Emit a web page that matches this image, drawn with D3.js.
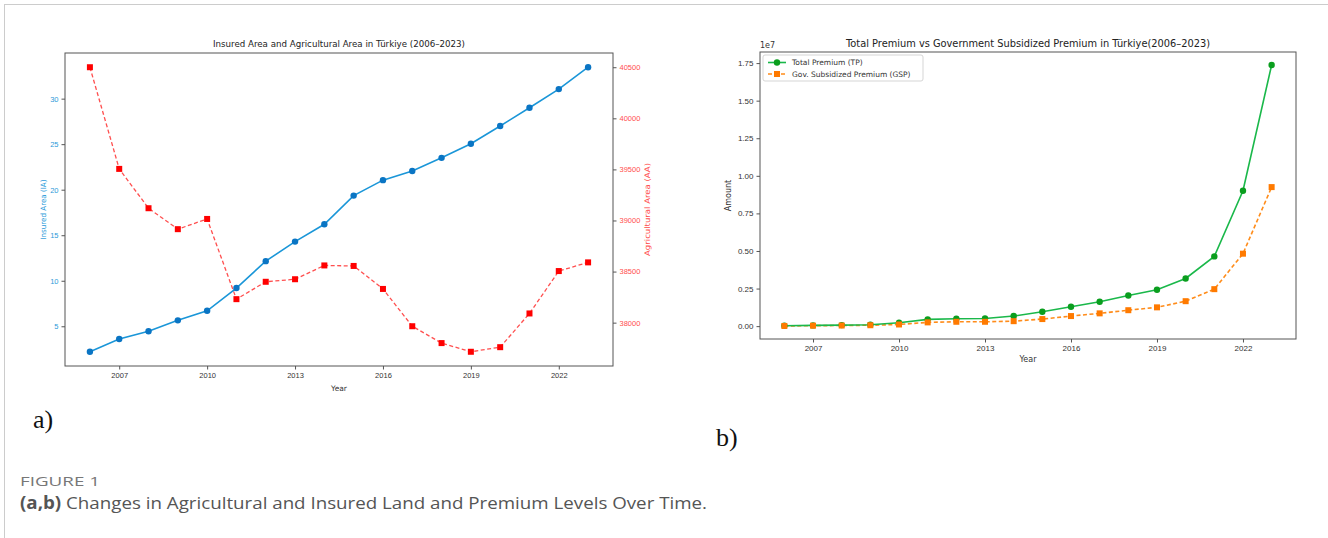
<!DOCTYPE html>
<html>
<head>
<meta charset="utf-8">
<script src="https://cdn.jsdelivr.net/npm/d3@7"></script>
<style>
  body { margin: 0; background: #fff; }
  svg { display: block; font-family: "DejaVu Sans", sans-serif; }
</style>
</head>
<body>
<svg id="fig" width="1328" height="538"></svg>
<script>
// data
const years = [2006, 2007, 2008, 2009, 2010, 2011, 2012, 2013, 2014, 2015, 2016, 2017, 2018, 2019, 2020, 2021, 2022, 2023];
const insuredArea = [2.2, 3.6, 4.45, 5.65, 6.7, 9.2, 12.15, 14.3, 16.2, 19.35, 21.05, 22.05, 23.5, 25.05, 27.0, 29.0, 31.05, 33.45];
const agriArea = [40500, 39505, 39120, 38915, 39015, 38230, 38400, 38425, 38560, 38555, 38330, 37965, 37800, 37715, 37760, 38090, 38505, 38590];
const totalPremium = [30000, 50000, 70000, 90000, 230000, 450000, 490000, 510000, 670000, 960000, 1290000, 1620000, 2040000, 2420000, 3170000, 4640000, 9010000, 17370000];
const govPremium = [12000, 30000, 40000, 60000, 110000, 250000, 290000, 290000, 330000, 470000, 670000, 850000, 1060000, 1250000, 1660000, 2460000, 4820000, 9250000];

const yearTicks = [2007, 2010, 2013, 2016, 2019, 2022];
const iaTicks = [5, 10, 15, 20, 25, 30];
const aaTicks = [38000, 38500, 39000, 39500, 40000, 40500];
const amountTicks = [0, 2500000, 5000000, 7500000, 10000000, 12500000, 15000000, 17500000];

const svg = d3.select("#fig");

// matplotlib style 5% margins
function padded(vals) {
  const [lo, hi] = d3.extent(vals);
  const m = (hi - lo) * 0.05;
  return [lo - m, hi + m];
}

function styleAxis(g, color) {
  g.select(".domain").remove();
  g.selectAll(".tick line").attr("stroke", "#555");
  g.selectAll(".tick text").attr("fill", color);
}

// page frame
svg.append("line").attr("x1", 4).attr("x2", 1328).attr("y1", 4.5).attr("y2", 4.5).attr("stroke", "#ccc");
svg.append("line").attr("x1", 4.5).attr("x2", 4.5).attr("y1", 4).attr("y2", 538).attr("stroke", "#ccc");

// ---------- panel a ----------
const A = { left: 65, right: 613, top: 53, bottom: 366 };
const xA = d3.scaleLinear().domain(padded(years)).range([A.left, A.right]);
const yIA = d3.scaleLinear().domain(padded(insuredArea)).range([A.bottom, A.top]);
const yAA = d3.scaleLinear().domain(padded(agriArea)).range([A.bottom, A.top]);

const pa = svg.append("g");

pa.append("g").attr("transform", `translate(0,${A.bottom})`)
  .style("font-size", "7.5px")
  .call(d3.axisBottom(xA).tickValues(yearTicks).tickFormat(d3.format("d")).tickSize(3.5).tickPadding(3))
  .call(g => styleAxis(g, "#333"));

pa.append("g").attr("transform", `translate(${A.left},0)`)
  .style("font-size", "7.5px")
  .call(d3.axisLeft(yIA).tickValues(iaTicks).tickSize(3.5).tickPadding(3))
  .call(g => styleAxis(g, "#2b9ad9"));

pa.append("g").attr("transform", `translate(${A.right},0)`)
  .style("font-size", "7.5px")
  .call(d3.axisRight(yAA).tickValues(aaTicks).tickFormat(d3.format("d")).tickSize(3.5).tickPadding(3))
  .call(g => styleAxis(g, "#ff4d4d"));

// red dashed agricultural area
pa.append("path")
  .datum(years.map((y, i) => [y, agriArea[i]]))
  .attr("fill", "none").attr("stroke", "#ff3030").attr("stroke-width", 1.3)
  .attr("stroke-dasharray", "4,2.5").attr("opacity", 0.85)
  .attr("d", d3.line().x(d => xA(d[0])).y(d => yAA(d[1])));

pa.selectAll("rect.aa").data(agriArea).enter().append("rect")
  .attr("class", "aa")
  .attr("x", (d, i) => xA(years[i]) - 3).attr("y", d => yAA(d) - 3)
  .attr("width", 6).attr("height", 6).attr("fill", "#ff0000");

// blue insured area
pa.append("path")
  .datum(years.map((y, i) => [y, insuredArea[i]]))
  .attr("fill", "none").attr("stroke", "#1a96d8").attr("stroke-width", 1.6)
  .attr("d", d3.line().x(d => xA(d[0])).y(d => yIA(d[1])));

pa.selectAll("circle.ia").data(insuredArea).enter().append("circle")
  .attr("class", "ia")
  .attr("cx", (d, i) => xA(years[i])).attr("cy", d => yIA(d))
  .attr("r", 3.2).attr("fill", "#0a75c4");

pa.append("rect")
  .attr("x", A.left).attr("y", A.top)
  .attr("width", A.right - A.left).attr("height", A.bottom - A.top)
  .attr("fill", "none").attr("stroke", "#555").attr("stroke-width", 1);

pa.append("text").attr("x", (A.left + A.right) / 2).attr("y", 47)
  .attr("text-anchor", "middle").attr("fill", "#222").style("font-size", "9.5px")
  .attr("textLength", 252).attr("lengthAdjust", "spacingAndGlyphs")
  .text("Insured Area and Agricultural Area in Türkiye (2006–2023)");

pa.append("text").attr("x", (A.left + A.right) / 2).attr("y", 391)
  .attr("text-anchor", "middle").attr("fill", "#333").style("font-size", "7.5px")
  .text("Year");

pa.append("text").attr("transform", `translate(46,${(A.top + A.bottom) / 2}) rotate(-90)`)
  .attr("text-anchor", "middle").attr("fill", "#2b9ad9").style("font-size", "7.5px")
  .attr("textLength", 60).attr("lengthAdjust", "spacingAndGlyphs")
  .text("Insured Area (IA)");

pa.append("text").attr("transform", `translate(650,${(A.top + A.bottom) / 2}) rotate(-90)`)
  .attr("text-anchor", "middle").attr("fill", "#ff4d4d").style("font-size", "7.5px")
  .attr("textLength", 93).attr("lengthAdjust", "spacingAndGlyphs")
  .text("Agricultural Area (AA)");

// ---------- panel b ----------
const B = { left: 760, right: 1296, top: 52, bottom: 339 };
const xB = d3.scaleLinear().domain(padded(years)).range([B.left, B.right]);
const yB = d3.scaleLinear().domain(padded(totalPremium.concat(govPremium))).range([B.bottom, B.top]);

const pb = svg.append("g");

pb.append("g").attr("transform", `translate(0,${B.bottom})`)
  .style("font-size", "8px")
  .call(d3.axisBottom(xB).tickValues(yearTicks).tickFormat(d3.format("d")).tickSize(3.5).tickPadding(3))
  .call(g => styleAxis(g, "#333"));

pb.append("g").attr("transform", `translate(${B.left},0)`)
  .style("font-size", "8px")
  .call(d3.axisLeft(yB).tickValues(amountTicks).tickFormat(d => (d / 1e7).toFixed(2)).tickSize(3.5).tickPadding(3))
  .call(g => styleAxis(g, "#333"));

pb.append("path")
  .datum(years.map((y, i) => [y, govPremium[i]]))
  .attr("fill", "none").attr("stroke", "#ff8c1a").attr("stroke-width", 1.6)
  .attr("stroke-dasharray", "4,2.5")
  .attr("d", d3.line().x(d => xB(d[0])).y(d => yB(d[1])));

pb.append("path")
  .datum(years.map((y, i) => [y, totalPremium[i]]))
  .attr("fill", "none").attr("stroke", "#1ab84a").attr("stroke-width", 1.6)
  .attr("d", d3.line().x(d => xB(d[0])).y(d => yB(d[1])));

pb.selectAll("circle.tp").data(totalPremium).enter().append("circle")
  .attr("class", "tp")
  .attr("cx", (d, i) => xB(years[i])).attr("cy", d => yB(d))
  .attr("r", 3.2).attr("fill", "#0a9e1e");

pb.selectAll("rect.gsp").data(govPremium).enter().append("rect")
  .attr("class", "gsp")
  .attr("x", (d, i) => xB(years[i]) - 3).attr("y", d => yB(d) - 3)
  .attr("width", 6).attr("height", 6).attr("fill", "#ff7a00");

pb.append("rect")
  .attr("x", B.left).attr("y", B.top)
  .attr("width", B.right - B.left).attr("height", B.bottom - B.top)
  .attr("fill", "none").attr("stroke", "#555").attr("stroke-width", 1);

pb.append("text").attr("x", (B.left + B.right) / 2).attr("y", 47)
  .attr("text-anchor", "middle").attr("fill", "#222").style("font-size", "10px")
  .attr("textLength", 364).attr("lengthAdjust", "spacingAndGlyphs")
  .text("Total Premium vs Government Subsidized Premium in Türkiye(2006–2023)");

pb.append("text").attr("x", B.left).attr("y", 48)
  .attr("fill", "#333").style("font-size", "8px").text("1e7");

pb.append("text").attr("x", (B.left + B.right) / 2).attr("y", 362)
  .attr("text-anchor", "middle").attr("fill", "#333").style("font-size", "8px")
  .text("Year");

pb.append("text").attr("transform", `translate(731,${(B.top + B.bottom) / 2}) rotate(-90)`)
  .attr("text-anchor", "middle").attr("fill", "#333").style("font-size", "8px")
  .text("Amount");

// legend
const legendItems = [
  { label: "Total Premium (TP)", color: "#1ab84a", mark: "#0a9e1e", dash: null, shape: "circle" },
  { label: "Gov. Subsidized Premium (GSP)", color: "#ff8c1a", mark: "#ff7a00", dash: "4,2.5", shape: "square" }
];
const lg = pb.append("g").attr("transform", "translate(763,55)");
lg.append("rect").attr("width", 160).attr("height", 26).attr("rx", 2)
  .attr("fill", "#fff").attr("stroke", "#d5d5d5");
legendItems.forEach((it, i) => {
  const yy = 7.5 + i * 11.5;
  lg.append("line").attr("x1", 5).attr("x2", 23).attr("y1", yy).attr("y2", yy)
    .attr("stroke", it.color).attr("stroke-width", 1.6).attr("stroke-dasharray", it.dash);
  if (it.shape === "circle") {
    lg.append("circle").attr("cx", 14).attr("cy", yy).attr("r", 3.2).attr("fill", it.mark);
  } else {
    lg.append("rect").attr("x", 11).attr("y", yy - 3).attr("width", 6).attr("height", 6).attr("fill", it.mark);
  }
  lg.append("text").attr("x", 29).attr("y", yy + 2.8)
    .attr("fill", "#333").style("font-size", "7.5px").text(it.label);
});

// ---------- panel letters and caption ----------
svg.append("text").attr("x", 33).attr("y", 428)
  .style("font-family", "'Liberation Serif', serif").style("font-size", "26px").attr("fill", "#111")
  .text("a)");
svg.append("text").attr("x", 716).attr("y", 446)
  .style("font-family", "'Liberation Serif', serif").style("font-size", "26px").attr("fill", "#111")
  .text("b)");

svg.append("text").attr("x", 20).attr("y", 486)
  .style("font-family", "'Open Sans', sans-serif").style("font-size", "12px").attr("fill", "#777")
  .attr("textLength", 80).attr("lengthAdjust", "spacingAndGlyphs")
  .text("FIGURE 1");

const cap = svg.append("text").attr("x", 20).attr("y", 509)
  .style("font-family", "'Open Sans', sans-serif").style("font-size", "17px").attr("fill", "#555")
  .attr("textLength", 687).attr("lengthAdjust", "spacingAndGlyphs");
cap.append("tspan").style("font-weight", "bold").text("(a,b)");
cap.append("tspan").text(" Changes in Agricultural and Insured Land and Premium Levels Over Time.");
</script>
</body>
</html>
